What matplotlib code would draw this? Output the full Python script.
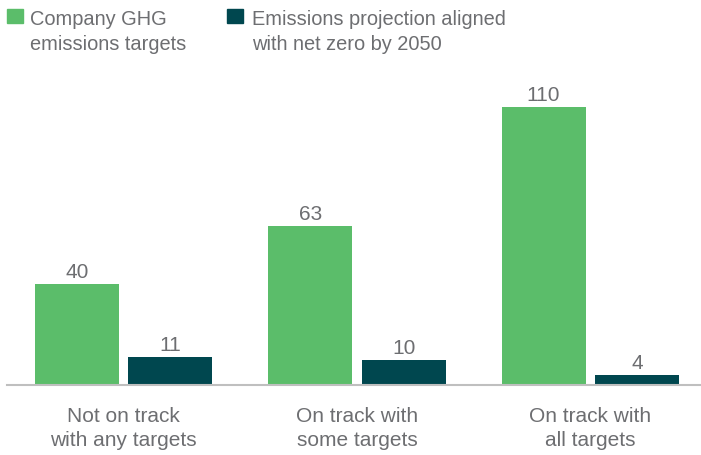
import matplotlib
matplotlib.use("Agg")
import matplotlib.pyplot as plt
from matplotlib.patches import Rectangle
import numpy as np

plt.rcParams['font.family'] = ['Liberation Sans', 'DejaVu Sans']

categories = ["Not on track\nwith any targets", "On track with\nsome targets", "On track with\nall targets"]
series_names = ["Company GHG\nemissions targets", "Emissions projection aligned\nwith net zero by 2050"]
company_targets = [40, 63, 110]
net_zero_projection = [11, 10, 4]

GREEN = "#5bbd6a"
TEAL = "#00474f"
TEXT = "#6d6e71"
AXIS = "#bfbfbf"

W, H = 701, 456
fig = plt.figure(figsize=(W / 100, H / 100), dpi=100)

# axes in pixel terms: baseline at y=386, spans x 7..701
base_px = 386
top_px = 82.7
ax = fig.add_axes([7 / W, (H - base_px) / H, 694 / W, (base_px - top_px) / H])

x = np.arange(len(categories))
width = 0.36
offset = 0.2
b1 = ax.bar(x - offset, company_targets, width, color=GREEN)
b2 = ax.bar(x + offset, net_zero_projection, width, color=TEAL)

ax.bar_label(b1, padding=2, fontsize=15, color=TEXT)
ax.bar_label(b2, padding=2, fontsize=15, color=TEXT)

ax.set_xlim(-0.5, 2.475)
ax.set_ylim(0, 120)
ax.set_xticks(x)
ax.set_xticklabels(categories, fontsize=15, color=TEXT, linespacing=1.37)
ax.tick_params(axis='x', length=0, pad=15)
ax.set_yticks([])
for s in ['top', 'right', 'left']:
    ax.spines[s].set_visible(False)
ax.spines['bottom'].set_color(AXIS)
ax.spines['bottom'].set_linewidth(1.5)

# legend: square swatch beside a two-line label
sw = [7, 227]
tx = [30, 252]
for sx, txx, color, name in zip(sw, tx, [GREEN, TEAL], series_names):
    fig.patches.append(Rectangle((sx / W, (H - 24) / H), 15.5 / W, 14.5 / H,
                                 transform=fig.transFigure, color=color))
    fig.text(txx / W, (H - 10) / H, name, fontsize=14.4, color=TEXT,
             va='top', ha='left', linespacing=1.4)

fig.savefig("out.png", dpi=100)
